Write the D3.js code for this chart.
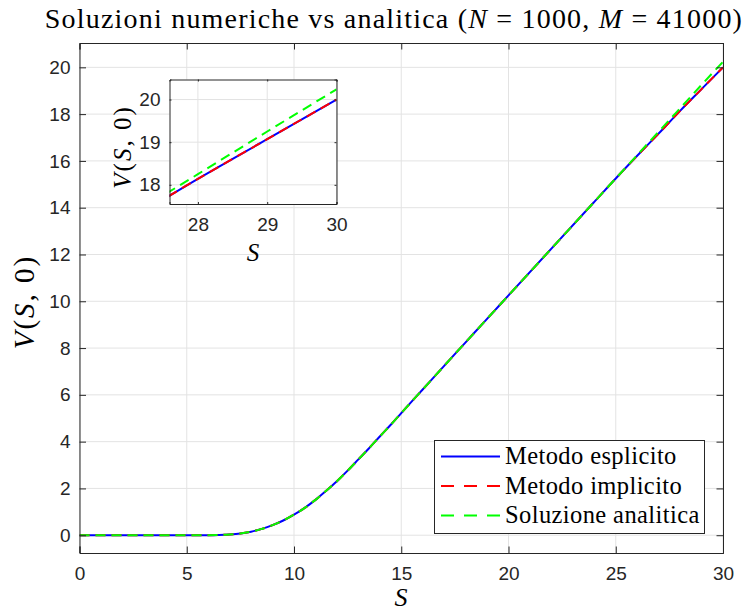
<!DOCTYPE html>
<html>
<head>
<meta charset="utf-8">
<script src="https://cdn.jsdelivr.net/npm/d3@7"></script>
<style>
  body { margin: 0; background: #fff; }
  svg { display: block; }
</style>
</head>
<body>
<svg id="chart" width="748" height="613"></svg>
<script>
// S grid and the three curves
const sValues = [0, 1, 2, 3, 4, 5, 6, 6.5, 7, 7.5, 8, 8.5, 9, 9.5, 10, 10.5, 11, 11.5, 12, 12.5,
                 13, 13.5, 14, 14.5, 15, 16, 17, 18, 19, 20, 22, 24, 25, 26, 27, 28, 29, 30];
const vAnalytic = [0, 0, 0, 0, 0, 0, 0.002, 0.01, 0.03, 0.07, 0.15, 0.27, 0.43, 0.63, 0.88, 1.17, 1.51, 1.9, 2.31, 2.76,
                   3.24, 3.72, 4.22, 4.71, 5.22, 6.23, 7.24, 8.245, 9.25, 10.25, 12.25, 14.25, 15.25, 16.25, 17.25, 18.25, 19.25, 20.24];
const vExplicit = [0, 0, 0, 0, 0, 0, 0.002, 0.01, 0.03, 0.07, 0.15, 0.27, 0.43, 0.63, 0.88, 1.17, 1.51, 1.9, 2.31, 2.76,
                   3.24, 3.72, 4.22, 4.71, 5.22, 6.23, 7.24, 8.245, 9.25, 10.25, 12.25, 14.25, 15.25, 16.22, 17.17, 18.14, 19.07, 20.0];
const vImplicit = vExplicit.slice();

const xTicks = [0, 5, 10, 15, 20, 25, 30];
const yTicks = [0, 2, 4, 6, 8, 10, 12, 14, 16, 18, 20];
const insetXTicks = [28, 29, 30];
const insetYTicks = [18, 19, 20];

const seriesNames = ["Metodo esplicito", "Metodo implicito", "Soluzione analitica"];
const seriesColors = ["#0000ff", "#ff0000", "#00ff00"];
const seriesDash = [null, "10,6", "10,6"];

const series = [vExplicit, vImplicit, vAnalytic].map((vals, i) => ({
    name: seriesNames[i], color: seriesColors[i], dash: seriesDash[i],
    points: sValues.map((s, j) => ({ s, v: vals[j] }))
}));

const AXIS = "#262626", GRID = "#e3e3e3";
const SANS = "'Liberation Sans', Arial, sans-serif";
const SERIF = "'Liberation Serif', 'Times New Roman', serif";

const svg = d3.select("#chart");

function drawAxes(g, x, y, xt, yt, tick, id) {
    const [x0, x1] = x.range(), [y0, y1] = y.range();
    g.append("rect").attr("x", x0).attr("y", y1).attr("width", x1 - x0).attr("height", y0 - y1)
        .attr("fill", "#fff");

    // grid
    g.append("g").selectAll("line").data(xt).join("line")
        .attr("x1", d => x(d)).attr("x2", d => x(d)).attr("y1", y0).attr("y2", y1)
        .attr("stroke", GRID).attr("stroke-width", 1);
    g.append("g").selectAll("line").data(yt).join("line")
        .attr("y1", d => y(d)).attr("y2", d => y(d)).attr("x1", x0).attr("x2", x1)
        .attr("stroke", GRID).attr("stroke-width", 1);

    // clipped data
    g.append("clipPath").attr("id", id).append("rect")
        .attr("x", x0).attr("y", y1).attr("width", x1 - x0).attr("height", y0 - y1);
    const line = d3.line().x(d => x(d.s)).y(d => y(d.v)).curve(d3.curveMonotoneX);
    g.append("g").attr("clip-path", `url(#${id})`)
        .selectAll("path").data(series).join("path")
        .attr("d", d => line(d.points))
        .attr("fill", "none").attr("stroke", d => d.color).attr("stroke-width", 2)
        .attr("stroke-dasharray", d => d.dash);

    // box + inward ticks
    const fmt = d => d;
    const bottom = g.append("g").attr("transform", `translate(0,${y0})`)
        .call(d3.axisBottom(x).tickValues(xt).tickFormat(fmt).tickSize(-tick).tickPadding(14));
    const top = g.append("g").attr("transform", `translate(0,${y1})`)
        .call(d3.axisTop(x).tickValues(xt).tickSize(-tick).tickFormat(""));
    const left = g.append("g").attr("transform", `translate(${x0},0)`)
        .call(d3.axisLeft(y).tickValues(yt).tickFormat(fmt).tickSize(-tick).tickPadding(9));
    const right = g.append("g").attr("transform", `translate(${x1},0)`)
        .call(d3.axisRight(y).tickValues(yt).tickSize(-tick).tickFormat(""));
    [bottom, top, left, right].forEach(a => a
        .call(s => s.select(".domain").attr("stroke", AXIS).attr("stroke-width", 1))
        .call(s => s.selectAll("line").attr("stroke", AXIS))
        .call(s => s.selectAll("text").attr("fill", AXIS).attr("font-family", SANS).attr("font-size", 19)));
}

// main axes
const x = d3.scaleLinear().domain([0, 30]).range([79.5, 723]);
const y = d3.scaleLinear().domain([-0.76, 21.04]).range([553, 43]);
drawAxes(svg.append("g"), x, y, xTicks, yTicks, 6.5, "clipMain");

// title
const title = svg.append("text").attr("x", 394).attr("y", 28).attr("text-anchor", "middle")
    .attr("font-family", SERIF).attr("font-size", 28).attr("letter-spacing", 1.2).attr("fill", "#000");
title.append("tspan").text("Soluzioni numeriche vs analitica (");
title.append("tspan").attr("font-style", "italic").text("N");
title.append("tspan").text(" = 1000, ");
title.append("tspan").attr("font-style", "italic").text("M");
title.append("tspan").text(" = 41000)");

// axis labels
function vLabel(g, cx, cy, size) {
    const t = g.append("text").attr("transform", `translate(${cx},${cy}) rotate(-90)`)
        .attr("text-anchor", "middle").attr("font-family", SERIF).attr("font-size", size)
        .attr("letter-spacing", 2).attr("fill", "#000");
    t.append("tspan").attr("font-style", "italic").text("V");
    t.append("tspan").text("(");
    t.append("tspan").attr("font-style", "italic").text("S");
    t.append("tspan").text(", 0)");
}
vLabel(svg, 34, 302, 29);
svg.append("text").attr("x", 401).attr("y", 606).attr("text-anchor", "middle")
    .attr("font-family", SERIF).attr("font-size", 26).attr("font-style", "italic").text("S");

// legend
const leg = svg.append("g");
leg.append("rect").attr("x", 434.5).attr("y", 440.5).attr("width", 270).attr("height", 93)
    .attr("fill", "#fff").attr("stroke", AXIS).attr("stroke-width", 1);
const rowY = [456.5, 486, 515.5];
series.forEach((d, i) => {
    leg.append("line").attr("x1", 441).attr("x2", 500).attr("y1", rowY[i]).attr("y2", rowY[i])
        .attr("stroke", d.color).attr("stroke-width", 2).attr("stroke-dasharray", d.dash ? "13,10" : null);
    leg.append("text").attr("x", 505).attr("y", rowY[i] + 7.5)
        .attr("font-family", SERIF).attr("font-size", 24.5).attr("letter-spacing", 0.4)
        .attr("fill", "#000").text(d.name);
});

// inset
const ix = d3.scaleLinear().domain([27.59, 30]).range([169.5, 336.5]);
const iy = d3.scaleLinear().domain([17.55, 20.47]).range([204, 79.5]);
const inset = svg.append("g");
drawAxes(inset, ix, iy, insetXTicks, insetYTicks, 2, "clipInset");
vLabel(inset, 131, 147, 25);
inset.append("text").attr("x", 253).attr("y", 261).attr("text-anchor", "middle")
    .attr("font-family", SERIF).attr("font-size", 25).attr("font-style", "italic").text("S");
</script>
</body>
</html>
